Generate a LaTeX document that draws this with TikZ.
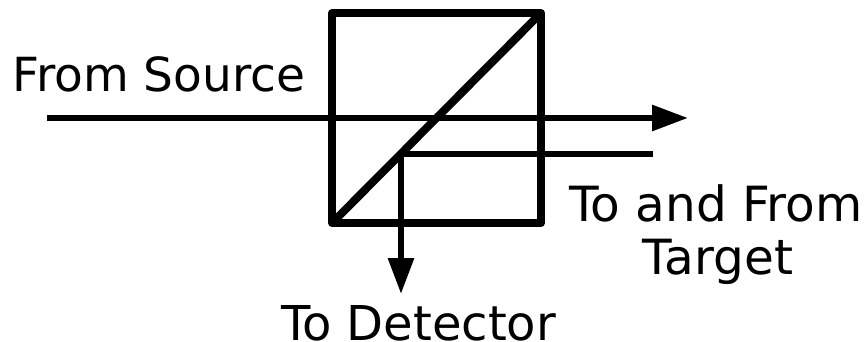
\documentclass[tikz,border=0pt]{standalone}
\usepackage{fontspec}
\setmainfont{DejaVu Sans}
\usetikzlibrary{arrows.meta}
\tikzset{
  px/.style={x=1pt,y=-1pt},
  boxline/.style={line width=8pt,line join=round},
  beam/.style={line width=6pt},
  tip/.style={-{Triangle[length=36pt,width=25pt]}},
  lbl/.style={font=\fontsize{48pt}{54pt}\selectfont,inner sep=0pt,align=center,anchor=base}
}
\begin{document}
\begin{tikzpicture}[px]
\useasboundingbox (0,0) rectangle (867,342);
\coordinate (tl) at (332,13);
\coordinate (tr) at (541,13);
\coordinate (br) at (541,223);
\coordinate (bl) at (332,223);
\coordinate (srcstart) at (47,118);
\coordinate (srcend) at (688,118);
\coordinate (tgt) at (653,154);
\coordinate (split) at (401,154);
\coordinate (det) at (401,294);
\draw[boxline] (tl) -- (tr) -- (br) -- (bl) -- cycle;
\draw[boxline] (bl) -- (tr);
\draw[beam,tip] (srcstart) -- (srcend);
\draw[beam] (tgt) -- (split);
\draw[beam,tip] (split.center) -- (det);
\node[lbl,font=\fontsize{47pt}{54pt}\selectfont] (from) at (159,92) {From Source};
\node[lbl,font=\fontsize{48.5pt}{54pt}\selectfont] (toand) at (716,221) {To and From};
\node[lbl,font=\fontsize{48.5pt}{54pt}\selectfont] (target) at (718,274.5) {Target};
\node[lbl] (todet) at (418.5,340.5) {To Detector};
\end{tikzpicture}
\end{document}
